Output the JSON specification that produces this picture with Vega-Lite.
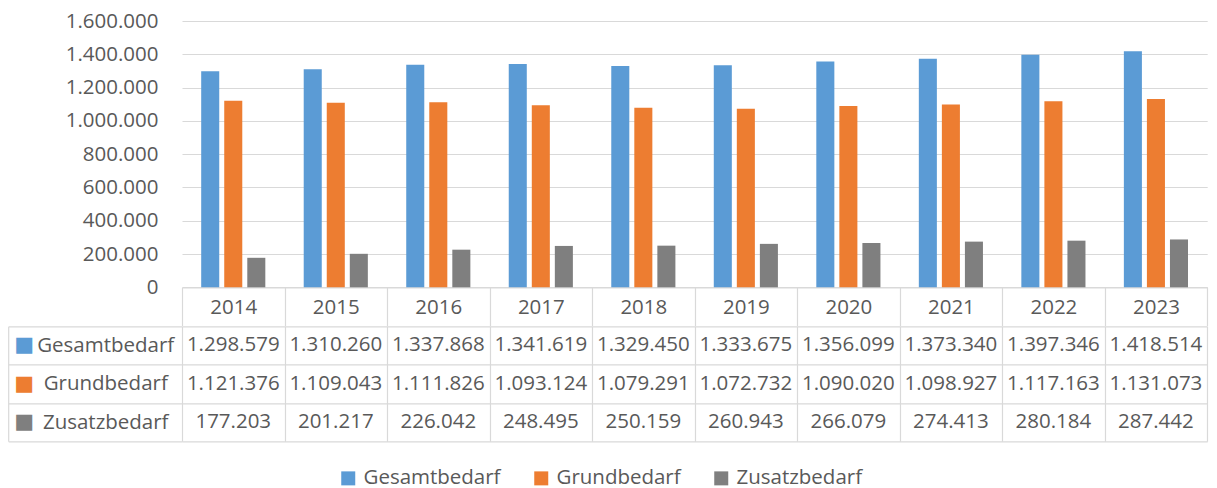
{
  "$schema": "https://vega.github.io/schema/vega-lite/v6.json",
  "padding": {"left": 7, "top": 11, "right": 8, "bottom": 4},
  "config": {
    "locale": {"number": {"decimal": ",", "thousands": ".", "grouping": [3], "currency": ["", " €"]}},
    "font": "Open Sans",
    "view": {"stroke": null},
    "axis": {"labelFont": "Open Sans", "labelFontSize": 20.5, "labelColor": "#595959", "gridColor": "#d9d9d9", "tickColor": "#d9d9d9", "domainColor": "#d9d9d9", "gridWidth": 1.2, "tickWidth": 1.2, "domainWidth": 1.2}
  },
  "datasets": {
    "d": [
      {"year": "2014", "series": "Gesamtbedarf", "value": 1298579},
      {"year": "2015", "series": "Gesamtbedarf", "value": 1310260},
      {"year": "2016", "series": "Gesamtbedarf", "value": 1337868},
      {"year": "2017", "series": "Gesamtbedarf", "value": 1341619},
      {"year": "2018", "series": "Gesamtbedarf", "value": 1329450},
      {"year": "2019", "series": "Gesamtbedarf", "value": 1333675},
      {"year": "2020", "series": "Gesamtbedarf", "value": 1356099},
      {"year": "2021", "series": "Gesamtbedarf", "value": 1373340},
      {"year": "2022", "series": "Gesamtbedarf", "value": 1397346},
      {"year": "2023", "series": "Gesamtbedarf", "value": 1418514},
      {"year": "2014", "series": "Grundbedarf", "value": 1121376},
      {"year": "2015", "series": "Grundbedarf", "value": 1109043},
      {"year": "2016", "series": "Grundbedarf", "value": 1111826},
      {"year": "2017", "series": "Grundbedarf", "value": 1093124},
      {"year": "2018", "series": "Grundbedarf", "value": 1079291},
      {"year": "2019", "series": "Grundbedarf", "value": 1072732},
      {"year": "2020", "series": "Grundbedarf", "value": 1090020},
      {"year": "2021", "series": "Grundbedarf", "value": 1098927},
      {"year": "2022", "series": "Grundbedarf", "value": 1117163},
      {"year": "2023", "series": "Grundbedarf", "value": 1131073},
      {"year": "2014", "series": "Zusatzbedarf", "value": 177203},
      {"year": "2015", "series": "Zusatzbedarf", "value": 201217},
      {"year": "2016", "series": "Zusatzbedarf", "value": 226042},
      {"year": "2017", "series": "Zusatzbedarf", "value": 248495},
      {"year": "2018", "series": "Zusatzbedarf", "value": 250159},
      {"year": "2019", "series": "Zusatzbedarf", "value": 260943},
      {"year": "2020", "series": "Zusatzbedarf", "value": 266079},
      {"year": "2021", "series": "Zusatzbedarf", "value": 274413},
      {"year": "2022", "series": "Zusatzbedarf", "value": 280184},
      {"year": "2023", "series": "Zusatzbedarf", "value": 287442}
    ]
  },
  "data": {"name": "d"},
  "bounds": "flush",
  "spacing": 38.3,
  "vconcat": [
    {
      "width": 1025.2,
      "height": 266.3,
      "mark": {"type": "bar"},
      "encoding": {
        "x": {
          "field": "year", "type": "nominal",
          "scale": {"paddingInner": 0, "paddingOuter": 0},
          "axis": {"title": null, "domain": true, "ticks": true, "tickBand": "extent", "tickSize": 38.3, "labelAngle": 0, "labelBaseline": "middle", "labelPadding": -18}
        },
        "y": {
          "field": "value", "type": "quantitative",
          "scale": {"domain": [0, 1600000], "nice": false},
          "axis": {"title": null, "values": [0, 200000, 400000, 600000, 800000, 1000000, 1200000, 1400000, 1600000], "labelExpr": "format(datum.value, ',.0f')", "domain": false, "ticks": false, "grid": true, "labelPadding": 24}
        },
        "xOffset": {
          "field": "series", "type": "nominal",
          "scale": {"domain": ["Gesamtbedarf", "Grundbedarf", "Zusatzbedarf"], "paddingInner": 0.217, "paddingOuter": 0.833}
        },
        "color": {
          "field": "series", "type": "nominal",
          "scale": {"domain": ["Gesamtbedarf", "Grundbedarf", "Zusatzbedarf"], "range": ["#5B9BD5", "#ED7D31", "#7F7F7F"]},
          "legend": {"title": null, "orient": "none", "legendX": 156, "legendY": 447, "direction": "horizontal", "symbolType": "square", "symbolSize": 196, "symbolStrokeWidth": 0, "symbolOpacity": 1, "labelFont": "Open Sans", "labelFontSize": 20.5, "labelColor": "#595959", "labelOffset": 5, "columnPadding": 30}
        }
      }
    },
    {
      "width": 1025.2,
      "height": 114.9,
      "resolve": {"axis": {"y": "independent"}},
      "layer": [
        {
          "mark": {"type": "text", "font": "Open Sans", "fontSize": 20.5, "color": "#595959", "baseline": "middle", "align": "center"},
          "encoding": {
            "x": {
              "field": "year", "type": "nominal",
              "scale": {"paddingInner": 0, "paddingOuter": 0},
              "axis": {"title": null, "labels": false, "ticks": false, "domain": false, "grid": true, "tickBand": "extent"}
            },
            "y": {
              "field": "series", "type": "nominal",
              "sort": ["Gesamtbedarf", "Grundbedarf", "Zusatzbedarf"],
              "scale": {"paddingInner": 0, "paddingOuter": 0},
              "axis": {"title": null, "orient": "left", "domain": false, "ticks": true, "tickBand": "extent", "tickSize": 173.8, "grid": true, "labelAlign": "center", "labelBaseline": "middle", "labelPadding": -97}
            },
            "text": {"field": "value", "type": "quantitative", "format": ","}
          }
        },
        {
          "mark": {"type": "rect", "opacity": 0},
          "encoding": {
            "x": {"field": "year", "type": "nominal"},
            "y": {
              "field": "series", "type": "nominal",
              "sort": ["Gesamtbedarf", "Grundbedarf", "Zusatzbedarf"],
              "axis": {
                "title": null, "orient": "left", "offset": 173.8, "domain": true, "ticks": false, "grid": false,
                "labelExpr": "'■'", "labelFont": "DejaVu Sans", "labelFontSize": 21, "labelAlign": "center", "labelBaseline": "middle", "labelPadding": -15.5,
                "labelColor": {"condition": [{"test": "datum.value === 'Gesamtbedarf'", "value": "#5B9BD5"}, {"test": "datum.value === 'Grundbedarf'", "value": "#ED7D31"}], "value": "#7F7F7F"}
              }
            }
          }
        }
      ]
    }
  ]
}
